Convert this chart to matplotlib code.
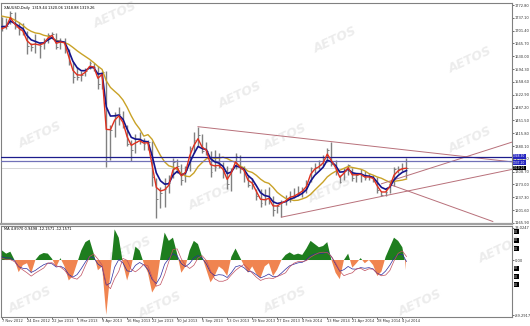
import numpy as np
import pandas as pd
import matplotlib
matplotlib.use("Agg")
import matplotlib.pyplot as plt

# XAUUSD, roughly one bar per week; index 0 = 7 Nov 2012
close = [1715, 1714, 1751, 1712, 1703, 1696, 1660, 1657, 1665, 1660,
         1668, 1688, 1692, 1655, 1672, 1666, 1610, 1572, 1572, 1577,
         1590, 1610, 1600, 1553, 1585, 1350, 1425, 1465, 1470, 1437,
         1386, 1370, 1392, 1398, 1385, 1390, 1295, 1234, 1250, 1260,
         1277, 1335, 1325, 1285, 1312, 1375, 1396, 1410, 1365, 1365,
         1308, 1323, 1327, 1310, 1273, 1315, 1351, 1315, 1308, 1271,
         1273, 1242, 1221, 1230, 1236, 1203, 1213, 1225, 1230, 1242,
         1242, 1250, 1258, 1274, 1318, 1323, 1326, 1338, 1370, 1330,
         1310, 1280, 1310, 1327, 1290, 1300, 1302, 1290, 1294, 1288,
         1258, 1244, 1252, 1275, 1315, 1317, 1320, 1319]
high = [1740, 1736, 1755, 1754, 1725, 1722, 1700, 1668, 1693, 1668,
        1680, 1695, 1697, 1695, 1682, 1680, 1650, 1615, 1600, 1590,
        1598, 1616, 1612, 1603, 1590, 1588, 1440, 1475, 1488, 1478,
        1440, 1396, 1415, 1420, 1403, 1398, 1393, 1290, 1267, 1290,
        1300, 1348, 1345, 1330, 1325, 1380, 1420, 1434, 1415, 1392,
        1365, 1370, 1360, 1335, 1325, 1320, 1361, 1355, 1325, 1300,
        1290, 1260, 1260, 1260, 1265, 1240, 1215, 1230, 1245, 1255,
        1262, 1270, 1265, 1285, 1322, 1332, 1340, 1355, 1375, 1392,
        1340, 1300, 1320, 1331, 1320, 1305, 1315, 1310, 1305, 1300,
        1295, 1256, 1262, 1280, 1322, 1325, 1332, 1346]
low = [1700, 1705, 1720, 1705, 1690, 1690, 1635, 1645, 1640, 1626,
       1650, 1668, 1680, 1650, 1650, 1640, 1605, 1555, 1565, 1562,
       1575, 1595, 1590, 1540, 1540, 1321, 1340, 1405, 1440, 1430,
       1380, 1338, 1360, 1385, 1370, 1370, 1270, 1180, 1207, 1210,
       1250, 1290, 1305, 1272, 1280, 1310, 1360, 1380, 1360, 1355,
       1295, 1310, 1320, 1290, 1260, 1255, 1315, 1305, 1280, 1265,
       1260, 1230, 1210, 1215, 1220, 1185, 1195, 1182, 1215, 1225,
       1235, 1240, 1238, 1250, 1280, 1305, 1315, 1325, 1336, 1325,
       1300, 1277, 1285, 1300, 1283, 1280, 1280, 1285, 1285, 1280,
       1250, 1240, 1240, 1250, 1270, 1305, 1310, 1292]
# closes before the first visible bar, only used to seed the averages
warmup_close = [1740, 1770, 1773, 1772, 1780, 1758, 1724, 1710, 1677]

# oscillator histogram
osc = [15, 10, 13, 0, -19, -8, -5, -21, 0, 8,
       11, 10, 2, -11, 3, -10, -32, -25, -5, 15,
       28, 32, 10, -16, -10, -86, -20, 48, 35, -5,
       -32, -10, 21, 15, -5, -20, -51, -40, 5, 43,
       30, 35, 10, -20, -10, 15, 30, 25, 5, -15,
       -35, -25, -10, -15, -25, 5, 18, 5, -8, -20,
       -10, -22, -28, -10, -5, -25, -15, 0, 8, 12,
       8, 10, 8, 18, 30, 25, 20, 22, 28, 0,
       -20, -30, 0, 10, -12, -5, 3, -5, 0, -8,
       -25, -18, 5, 20, 35, 30, 20, -15]

date_labels = ["7 Nov 2012", "24 Dec 2012", "22 Jan 2013", "1 Mar 2013",
               "9 Apr 2013", "16 May 2013", "22 Jun 2013", "30 Jul 2013",
               "5 Sep 2013", "13 Oct 2013", "19 Nov 2013", "27 Dec 2013",
               "4 Feb 2014", "13 Mar 2014", "21 Apr 2014", "28 May 2014",
               "4 Jul 2014"]
label_every = 6

price_top_label = 1772.80
price_step = 35.70
n_price_ticks = 18

# trend lines: (bar index, price) anchor pairs
trend_lines = [((47, 1434), (122.3, 1336)),
               ((67, 1182), (122.3, 1315)),
               ((91, 1275), (122.3, 1391)),
               ((93, 1273), (117.7, 1170))]
h_levels = [1348.3, 1337.2]
last_price = 1319.26

W, H = 530, 326
FS = 2.6
fig = plt.figure(figsize=(W / 100, H / 100), dpi=100)
fig.patch.set_facecolor("white")


def box(l, t, r, b):
    return [l / W, 1 - b / H, (r - l) / W, (b - t) / H]


ax = fig.add_axes(box(1, 3, 512, 224))
axm = fig.add_axes(box(1, 226, 512, 317))

n = len(close)
x = np.arange(n)
full = pd.Series(warmup_close + close, dtype=float)
k = len(warmup_close)
red = full.ewm(span=2, adjust=False).mean().to_numpy()[k:]
blue = full.ewm(span=4, adjust=False).mean().to_numpy()[k:]
olive = full.rolling(10, min_periods=1).mean().to_numpy()[k:]

ax.vlines(x, low, high, color="#808080", lw=1.0, zorder=2)
ax.hlines(close, x, x + 0.4, color="#808080", lw=0.7, zorder=2)
ax.plot(x, olive, color="#c9a227", lw=1.0, zorder=3)
ax.plot(x, blue, color="#14148c", lw=1.2, zorder=4)
ax.plot(x, red, color="#e0301e", lw=1.0, zorder=5)

for (x0, y0), (x1, y1) in trend_lines:
    ax.plot([x0, x1], [y0, y1], color="#b8707a", lw=0.7, zorder=3)
ax.axhline(h_levels[0], color="#1c1c8c", lw=0.9, zorder=3)
ax.axhline(h_levels[1], color="#7272b8", lw=0.9, zorder=3)
ax.axhline(last_price, color="#c8c8c8", lw=0.5, zorder=1)

ax.set_xlim(-0.24, 122.3)
ax.set_ylim(1163.0, 1778.4)

yt = [price_top_label - price_step * i for i in range(n_price_ticks)]
for a in (ax, axm):
    a.set_facecolor("none")
    a.yaxis.tick_right()
    for s in a.spines.values():
        s.set_color("#808080")
        s.set_linewidth(0.8)
    a.tick_params(axis="y", length=1.2, width=0.5, labelsize=FS, pad=0.8,
                  colors="#333333")
ax.set_yticks(yt, [f"{v:.2f}" for v in yt])
ax.set_xticks([])
ax.spines["bottom"].set_linewidth(1.6)
ax.spines["bottom"].set_color("#a0a0a0")

# price boxes on the scale, stacked so they just touch
for val, nudge, fc in ((h_levels[0], 3.2, "#2424c0"),
                       (h_levels[1], -3.2, "#2424c0"),
                       (last_price, -1.0, "black")):
    ax.text(1.002, val + nudge, f"{val:.2f}",
            transform=ax.get_yaxis_transform(),
            fontsize=FS - 0.4, color="white", va="center", ha="left",
            bbox=dict(boxstyle="square,pad=0.08", fc=fc, ec="none"),
            zorder=10, clip_on=False)

ax.text(0.006, 0.988, "XAUUSD,Daily  1319.44 1320.06 1318.88 1319.26",
        transform=ax.transAxes, fontsize=FS, va="top", ha="left")

# lower panel
osc = np.array(osc, dtype=float)
axm.fill_between(x, 0, osc, where=osc >= 0, interpolate=True,
                 color="#1e7d1e", lw=0, zorder=2)
axm.fill_between(x, 0, osc, where=osc <= 0, interpolate=True,
                 color="#f08450", lw=0, zorder=2)
sig1 = pd.Series(osc).ewm(span=5, adjust=False).mean().to_numpy()
sig2 = pd.Series(osc).rolling(4, min_periods=1).mean().to_numpy()
axm.plot(x, sig1 - 10, color="#2a2aa0", lw=0.5, zorder=3)
axm.plot(x, sig2 - 12, color="#c05060", lw=0.5, zorder=3)
axm.set_xlim(-0.24, 122.3)
axm.set_ylim(-89.29, 53.3)
axm.set_yticks([50.5, 0, -86.5], ["33.0247", "0.00", "-89.2917"])
axm.text(0.006, 0.985, "MA 4.8970 0.9498 -12.1571 -12.1571",
         transform=axm.transAxes, fontsize=FS, va="top", ha="left")
for v in (44, 31, 18, -13, -26, -39):
    axm.text(1.004, v, "00", transform=axm.get_yaxis_transform(),
             fontsize=FS - 0.4, va="center", ha="left", color="white",
             bbox=dict(boxstyle="square,pad=0.15", fc="black", ec="none"),
             clip_on=False)

xt = list(range(0, label_every * len(date_labels), label_every))
axm.set_xticks(xt, date_labels)
axm.tick_params(axis="x", length=1.2, width=0.5, labelsize=FS, pad=0.5,
                colors="#333333")
for t in axm.get_xticklabels():
    t.set_horizontalalignment("left")

# watermark
for cx, cy in [(115, 15), (335, 40), (470, 60), (40, 135), (240, 95),
               (285, 137), (470, 140), (210, 197), (330, 190), (130, 250),
               (30, 300), (160, 305), (285, 300), (420, 303), (500, 250)]:
    fig.text(cx / W, 1 - cy / H, "AETOS", fontsize=9, fontweight="bold",
             style="italic", color="#ececec", rotation=25, ha="center",
             va="center", zorder=-1)

fig.savefig("out.png", dpi=100)
